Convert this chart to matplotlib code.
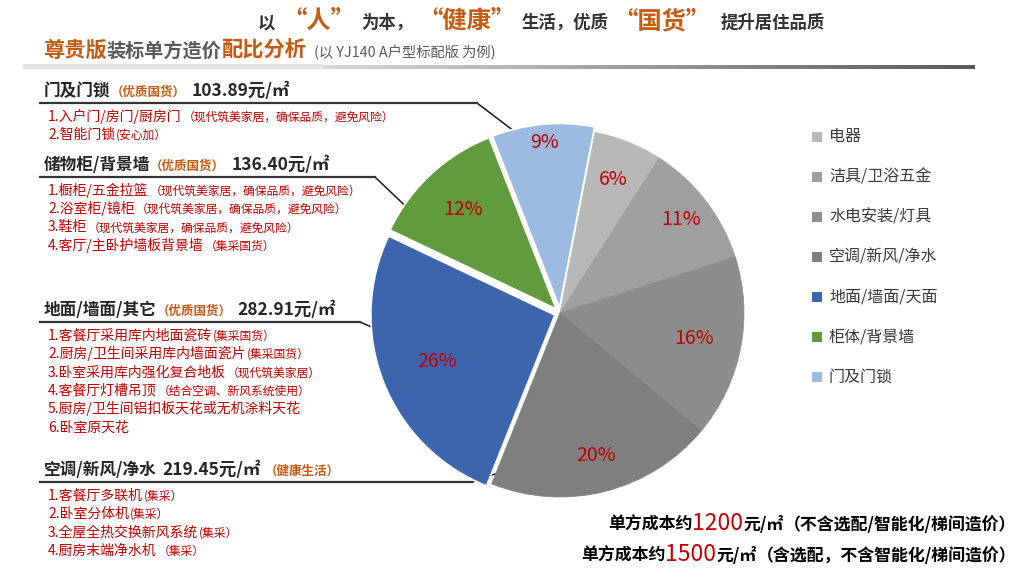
import numpy as np
import matplotlib
matplotlib.use("Agg")
import matplotlib.pyplot as plt
from matplotlib.patches import Rectangle
from matplotlib.colors import LinearSegmentedColormap

plt.rcParams['font.family'] = ['Noto Sans CJK SC', 'DejaVu Sans']

# ---------------------------------------------------------------------------
# data
# ---------------------------------------------------------------------------
categories = ["电器", "洁具/卫浴五金", "水电安装/灯具", "空调/新风/净水",
              "地面/墙面/天面", "柜体/背景墙", "门及门锁"]
shares = [6, 11, 16, 20, 26, 12, 9]
slice_colors = ["#B8B8B8", "#9F9F9F", "#8D8D8D", "#7F7F7F",
                "#3C65AE", "#629A3E", "#9BBBE0"]

door_price = "103.89"
cabinet_price = "136.40"
floor_price = "282.91"
hvac_price = "219.45"

door_items = [("1.入户门/房门/厨房门", "（现代筑美家居，确保品质，避免风险）"),
              ("2.智能门锁", "(安心加）")]
cabinet_items = [("1.橱柜/五金拉篮", "（现代筑美家居，确保品质，避免风险）"),
                 ("2.浴室柜/镜柜", "（现代筑美家居，确保品质，避免风险）"),
                 ("3.鞋柜", "（现代筑美家居，确保品质，避免风险）"),
                 ("4.客厅/主卧护墙板背景墙", "（集采国货）")]
floor_items = [("1.客餐厅采用库内地面瓷砖", "(集采国货）"),
               ("2.厨房/卫生间采用库内墙面瓷片", "(集采国货）"),
               ("3.卧室采用库内强化复合地板", "（现代筑美家居）"),
               ("4.客餐厅灯槽吊顶", "（结合空调、新风系统使用）"),
               ("5.厨房/卫生间铝扣板天花或无机涂料天花", ""),
               ("6.卧室原天花", "")]
hvac_items = [("1.客餐厅多联机", "(集采）"),
              ("2.卧室分体机", "(集采）"),
              ("3.全屋全热交换新风系统", "(集采）"),
              ("4.厨房末端净水机", "（集采）")]

cost_basic = "1200"
cost_full = "1500"

# ---------------------------------------------------------------------------
# layout / style
# ---------------------------------------------------------------------------
W, H = 1024, 576
ORANGE = "#C55A11"
RED = "#C00000"
DARK = "#262626"

explode = [0, 0, 0, 0, 0.03, 0.03, 0.03]
pct_radius = [0.78, 0.83, 0.74, 0.80, 0.69, 0.74, 0.90]
cx, cy, R = 560, 313, 184

fig = plt.figure(figsize=(W / 100, H / 100), dpi=100)
bg = fig.add_axes([0, 0, 1, 1])
bg.set_xlim(0, W)
bg.set_ylim(H, 0)
bg.axis("off")
renderer = fig.canvas.get_renderer()


def runs(x, y, parts, ha="left"):
    """Draw text pieces one after the other on a common baseline."""
    items = []
    for p in parts:
        s, size, color, weight = p[:4]
        gap = p[4] if len(p) > 4 else 0
        t = bg.text(x, y, s, fontsize=size, color=color, fontweight=weight,
                    va="baseline", ha="left")
        items.append((t, gap))
    widths = [t.get_window_extent(renderer).width + g for t, g in items]
    start = x - sum(widths) if ha == "right" else x
    for (t, g), w in zip(items, widths):
        t.set_x(start)
        start += w


# title
title_parts = [("以", 12.5, "#333333", "bold", 7),
               ("“人”", 17.5, ORANGE, "bold", 6),
               ("为本，", 12.5, "#333333", "bold", 5),
               ("“健康”", 17.5, ORANGE, "bold", 6),
               ("生活，优质", 12.5, "#333333", "bold", 5),
               ("“国货”", 17.5, ORANGE, "bold", 10),
               ("提升居住品质", 12.5, "#333333", "bold")]
runs(258, 28, title_parts)

runs(43, 57, [("尊贵版", 15.3, ORANGE, "bold"),
              ("装标单方造价", 13.8, "#595959", "bold"),
              ("配比分析", 15.3, ORANGE, "bold", 8),
              ("(以 YJ140 A户型标配版 为例)", 10.3, "#595959", "normal")])

# gradient rule under the subtitle
bg.add_patch(Rectangle((23, 64), 300, 5, color="#E4E4E4", lw=0))
grad_cmap = LinearSegmentedColormap.from_list("rule", ["#D9D9D9", "#595959"])
bg.imshow(np.linspace(0, 1, 256)[None, :], cmap=grad_cmap, aspect="auto",
          extent=[323, 975, 69, 65])
bg.set_xlim(0, W)
bg.set_ylim(H, 0)

# pie
ax = fig.add_axes([(cx - R) / W, (H - cy - R) / H, 2 * R / W, 2 * R / H])
wedges, _, autotexts = ax.pie(shares, colors=slice_colors, explode=explode,
                              startangle=79, counterclock=False,
                              autopct="%.0f%%", pctdistance=0.78,
                              textprops=dict(color=RED, fontsize=14))
ax.set_xlim(-1, 1)
ax.set_ylim(-1, 1)
ax.axis("off")
for i, (w, t) in enumerate(zip(wedges, autotexts)):
    w.set_clip_on(False)
    if explode[i] > 0:
        w.set_edgecolor("white")
        w.set_linewidth(1.2)
    else:
        w.set_edgecolor(w.get_facecolor())
        w.set_linewidth(0.5)
    mid = np.deg2rad((w.theta1 + w.theta2) / 2)
    rr = pct_radius[i] + explode[i]
    t.set_position((rr * np.cos(mid), rr * np.sin(mid)))

# legend
for i, (lab, col) in enumerate(zip(categories, slice_colors)):
    ly = 137 + 40 * i
    bg.add_patch(Rectangle((812, ly - 5), 10, 10, color=col, lw=0))
    bg.text(829, ly, lab, fontsize=11.5, color="#3A3A3A", va="center")


# left text blocks
def block(y, heading, items, elbow_x, dot_angle, dot_r):
    runs(44, y, heading)
    line_y = y + 7
    a = np.deg2rad(dot_angle)
    dx = cx + R * dot_r * np.sin(a)
    dy = cy - R * dot_r * np.cos(a)
    bg.plot([40, elbow_x, dx], [line_y, line_y, dy], color="#1A1A1A", lw=1.1)
    bg.plot([40, elbow_x], [line_y, line_y], color="#333333", lw=1.6)
    bg.plot(dx, dy, "o", color="black", ms=5)
    for k, (main, note) in enumerate(items):
        runs(48, y + 24.5 + 18.4 * k, [(main, 10, RED, "normal", 1),
                                       (note, 8.5, RED, "normal")])


def head(name, price, tag, tag_first=True):
    h = [(name, 12, DARK, "bold")]
    p = (price + "元/㎡", 12.5, DARK, "bold", 4)
    t = (tag, 9, ORANGE, "bold", 6)
    return h + ([t, p] if tag_first else [(" ", 6, DARK, "bold", 4), p, t])


block(96, head("门及门锁", door_price, "（优质国货）"), door_items, 477, -8.9, 0.918)
block(170, head("储物柜/背景墙", cabinet_price, "（优质国货）"), cabinet_items, 375, -56.4, 0.913)
block(315, head("地面/墙面/其它", floor_price, "（优质国货）"), floor_items, 360, -99.6, 0.876)
block(475, head("空调/新风/净水", hvac_price, "（健康生活）", tag_first=False),
      hvac_items, 472, -167.6, 0.835)

# bottom-right cost notes
runs(1016, 530, [("单方成本约", 12.2, "black", "bold"),
                 (cost_basic, 16.5, RED, "normal"),
                 ("元/㎡", 12.2, "black", "bold"),
                 ("（不含选配/智能化/梯间造价）", 12.2, "black", "bold")], ha="right")
runs(1016, 561, [("单方成本约", 12.2, "black", "bold"),
                 (cost_full, 16.5, RED, "normal"),
                 ("元/㎡", 12.2, "black", "bold"),
                 ("（含选配，不含智能化/梯间造价）", 12.2, "black", "bold")], ha="right")

fig.savefig("out.png", dpi=100)
